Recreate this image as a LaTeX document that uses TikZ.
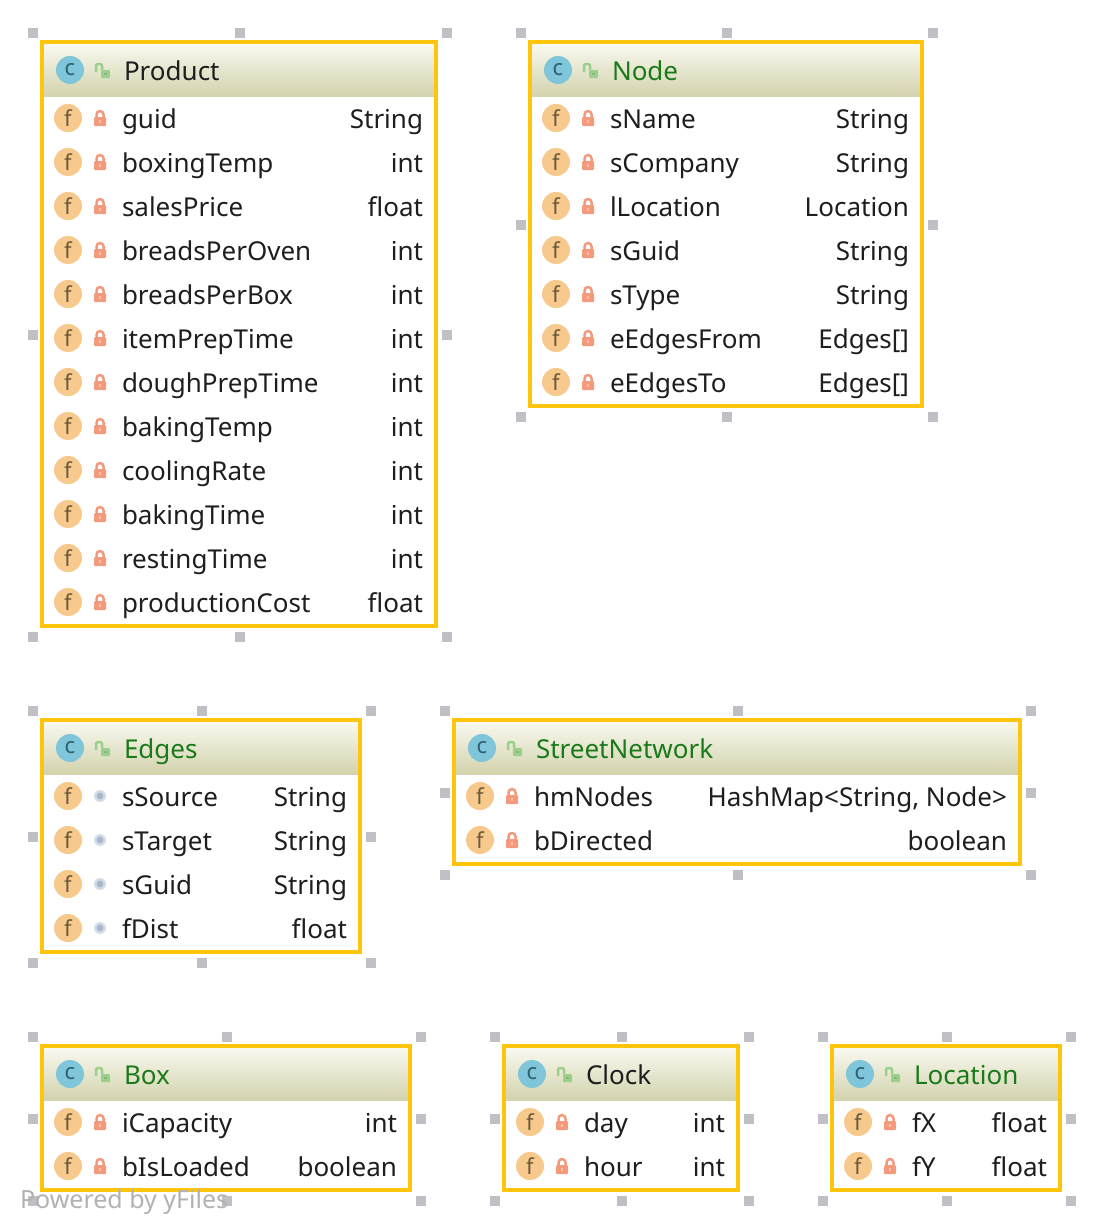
\documentclass[tikz,border=0pt]{standalone}
\usepackage{fontspec}
\setmainfont{Noto Sans}
\newfontfamily\labelfont{Noto Sans}
\usepackage{xcolor}
\usepackage{tikz}
\usetikzlibrary{calc}
\definecolor{frameyellow}{HTML}{FFC40C}
\definecolor{handlegray}{HTML}{BFBFC6}
\definecolor{classblue}{HTML}{7FC6DA}
\definecolor{fieldorange}{HTML}{F7C98C}
\definecolor{lockred}{HTML}{F49A7C}
\definecolor{lockgreen}{HTML}{9BD08C}
\definecolor{titlegreen}{HTML}{1A7A1A}
\definecolor{titleblack}{HTML}{1E1E1E}
\definecolor{headtop}{HTML}{FAFAF2}
\definecolor{headbottom}{HTML}{D3D3AD}
\definecolor{letterbrown}{HTML}{6B5A3A}
\definecolor{letterblue}{HTML}{2F5F70}
\definecolor{dotouter}{HTML}{D5DDE8}
\definecolor{dotinner}{HTML}{A9B8CC}
\tikzset{
    every node/.style={font=\labelfont\fontsize{26}{30}\selectfont, inner sep=0pt, outer sep=0pt, text=titleblack},
    handle/.style={rectangle, fill=handlegray, minimum size=10pt},
    frame/.style={draw=frameyellow, line width=4pt},
    badge/.style={circle, minimum size=28pt, font=\labelfont\fontsize{22}{24}\selectfont, text=letterbrown},
    lockclosed/.pic={
        \fill[lockred, rounded corners=1pt] (-6,-1) rectangle (6,8);
        \draw[lockred, line width=2.5pt] (-3.5,-1) -- (-3.5,-3.5) arc[start angle=180, end angle=360, radius=3.5] -- (3.5,-1);
        \fill[white, opacity=0.35] (-1,2) rectangle (1,5);
    },
    lockopen/.pic={
        \fill[lockgreen, rounded corners=1pt] (-1,0) rectangle (8,8);
        \draw[lockgreen, line width=2.5pt, rounded corners=2pt] (-6,2) -- (-6,-6) -- (0,-6) -- (0,0);
        \fill[lockgreen!70!black, opacity=0.4] (2,3) rectangle (5,5);
    },
    dotpackage/.pic={
        \fill[dotouter] (0,0) circle (6);
        \fill[dotinner] (0,0) circle (3.5);
    }
}
% title, left, top, right, bottom, title colour, field icon, rows
\newcommand{\classbox}[8]{
    \pgfmathsetmacro{\bw}{#4-#2}
    \pgfmathsetmacro{\bh}{#5-#3}
    \pgfmathsetmacro{\hl}{-9}
    \pgfmathsetmacro{\hc}{\bw/2+1}
    \pgfmathsetmacro{\hr}{\bw+11}
    \pgfmathsetmacro{\hm}{\bh/2+1}
    \pgfmathsetmacro{\hb}{\bh+11}
    \begin{scope}[shift={(#2,#3)}]
        \foreach \hx/\hy/\hn in {\hl/\hl/a, \hc/\hl/b, \hr/\hl/c, \hl/\hm/d, \hr/\hm/e, \hl/\hb/f, \hc/\hb/g, \hr/\hb/h}{
            \node[handle] (#1-\hn) at (\hx,\hy) {};
        }
        \fill[top color=headtop, bottom color=headbottom] (0,0) rectangle (\bw,54);
        \node[badge, fill=classblue, text=letterblue] (#1-c) at (28,28) {c};
        \path (60,28) pic {lockopen};
        \node[anchor=base west, text=#6] (#1-title) at (82,38) {#1};
        \foreach \rname/\rtype [count=\i from 0] in {#8}{
            \node[badge, fill=fieldorange] (#1-f\i) at (26,76+44*\i) {f};
            \path (58,76+44*\i) pic {#7};
            \node[anchor=base west] (#1-name\i) at (80,86+44*\i) {\rname};
            \node[anchor=base east] (#1-type\i) at (\bw-13,86+44*\i) {\rtype};
        }
        \node[frame, rectangle, minimum width=\bw pt, minimum height=\bh pt, anchor=north west] (#1) at (0,0) {};
    \end{scope}
}

\begin{document}
\begin{tikzpicture}[x=1pt, y=-1pt]
    \useasboundingbox (0,0) rectangle (1102,1232);
    \fill[white] (0,0) rectangle (1102,1232);

    \classbox{Product}{42}{42}{436}{626}{titleblack}{lockclosed}{guid/String, boxingTemp/int, salesPrice/float, breadsPerOven/int, breadsPerBox/int, itemPrepTime/int, doughPrepTime/int, bakingTemp/int, coolingRate/int, bakingTime/int, restingTime/int, productionCost/float}
    \classbox{Node}{530}{42}{922}{406}{titlegreen}{lockclosed}{sName/String, sCompany/String, lLocation/Location, sGuid/String, sType/String, eEdgesFrom/Edges[], eEdgesTo/Edges[]}

    \classbox{Edges}{42}{720}{360}{952}{titlegreen}{dotpackage}{sSource/String, sTarget/String, sGuid/String, fDist/float}
    \classbox{StreetNetwork}{454}{720}{1020}{864}{titlegreen}{lockclosed}{hmNodes/{HashMap<String, Node>}, bDirected/boolean}

    \classbox{Box}{42}{1046}{410}{1190}{titlegreen}{lockclosed}{iCapacity/int, bIsLoaded/boolean}
    \classbox{Clock}{504}{1046}{738}{1190}{titleblack}{lockclosed}{day/int, hour/int}
    \classbox{Location}{832}{1046}{1060}{1190}{titlegreen}{lockclosed}{fX/float, fY/float}

    \node[anchor=base west, text=black!30, font=\labelfont\fontsize{25}{28}\selectfont] (powered) at (20,1208) {Powered by yFiles};
\end{tikzpicture}
\end{document}
